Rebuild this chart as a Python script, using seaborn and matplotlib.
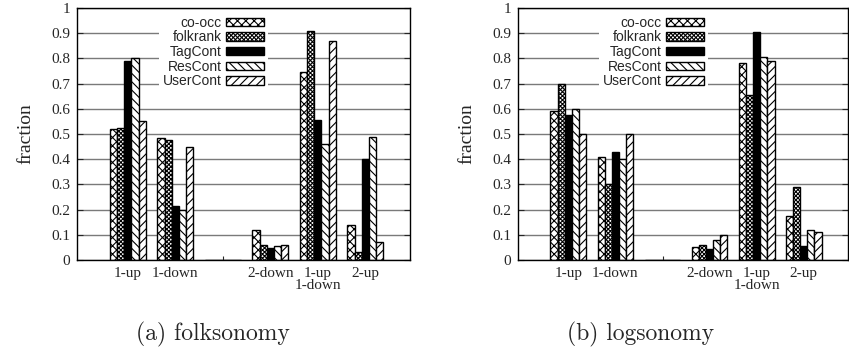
import matplotlib
matplotlib.use("Agg")
import matplotlib.pyplot as plt
from matplotlib.patches import Patch
import numpy as np
import pandas as pd
import seaborn as sns

# Move categories; the blank slot is an empty position on the axis
categories = ["1-up", "1-down", " ", "2-down", "1-up\n1-down", "2-up"]
methods = ["co-occ", "folkrank", "TagCont", "ResCont", "UserCont"]

# (a) folksonomy
folk_cooc = [0.52, 0.485, 0.0, 0.12, 0.745, 0.14]
folk_folkrank = [0.525, 0.475, 0.0, 0.06, 0.91, 0.03]
folk_tagcont = [0.79, 0.215, 0.0, 0.047, 0.555, 0.40]
folk_rescont = [0.80, 0.20, 0.0, 0.055, 0.46, 0.49]
folk_usercont = [0.55, 0.45, 0.0, 0.058, 0.87, 0.07]

# (b) logsonomy
log_cooc = [0.59, 0.41, 0.0, 0.05, 0.78, 0.175]
log_folkrank = [0.70, 0.30, 0.0, 0.058, 0.655, 0.29]
log_tagcont = [0.575, 0.43, 0.0, 0.045, 0.905, 0.055]
log_rescont = [0.60, 0.40, 0.0, 0.078, 0.805, 0.12]
log_usercont = [0.50, 0.50, 0.0, 0.10, 0.79, 0.11]

yticks = [0, 0.1, 0.2, 0.3, 0.4, 0.5, 0.6, 0.7, 0.8, 0.9, 1]
ytick_labels = ["0", "0.1", "0.2", "0.3", "0.4", "0.5", "0.6", "0.7", "0.8", "0.9", "1"]

styles = {
    "co-occ": dict(facecolor="white", hatch="xxxx"),
    "folkrank": dict(facecolor="white", hatch="xxxxxxxx"),
    "TagCont": dict(facecolor="black", hatch=None),
    "ResCont": dict(facecolor="white", hatch="\\\\\\\\"),
    "UserCont": dict(facecolor="white", hatch="////"),
}

sns.set_style("white")
plt.rcParams["font.family"] = ["serif"]
plt.rcParams["font.serif"] = ["Liberation Serif", "DejaVu Serif"]
plt.rcParams["font.sans-serif"] = ["Liberation Sans", "DejaVu Sans"]
plt.rcParams["hatch.linewidth"] = 0.8
plt.rcParams["hatch.color"] = "black"

TICK_SIZE = 11


def long_frame(series):
    rows = []
    for m, vals in zip(methods, series):
        for c, v in zip(categories, vals):
            rows.append({"move": c, "method": m, "fraction": v})
    return pd.DataFrame(rows)


def draw_panel(ax, series, caption_x, caption):
    df = long_frame(series)
    sns.barplot(data=df, x="move", y="fraction", hue="method",
                order=categories, hue_order=methods, width=0.76,
                dodge=True, legend=False, ax=ax, errorbar=None,
                edgecolor="black", linewidth=1.0)
    for m, cont in zip(methods, ax.containers):
        st = styles[m]
        for p in cont.patches:
            p.set_facecolor(st["facecolor"])
            p.set_edgecolor("black")
            if st["hatch"]:
                p.set_hatch(st["hatch"])

    ax.set_axisbelow(True)
    ax.set_xlim(-1.07, 5.94)
    ax.set_ylim(0, 1)
    ax.set_yticks(yticks)
    ax.set_yticklabels(ytick_labels, fontsize=TICK_SIZE)
    ax.set_xticks(range(len(categories)))
    ax.set_xticklabels(categories, fontsize=TICK_SIZE, linespacing=0.95)
    ax.tick_params(axis="y", direction="in", length=4, right=True, left=True,
                   pad=5)
    ax.tick_params(axis="x", direction="in", length=3, bottom=True, pad=5)
    ax.grid(axis="y", color="#7a7a7a", linewidth=1.0)
    ax.grid(axis="x", visible=False)
    for s in ax.spines.values():
        s.set_color("black")
        s.set_linewidth(1.0)
    ax.set_xlabel("")
    ax.set_ylabel("fraction", fontsize=14, labelpad=12)

    handles = [Patch(facecolor=styles[m]["facecolor"], edgecolor="black",
                     hatch=styles[m]["hatch"], linewidth=1.0) for m in methods]
    leg = ax.legend(handles, methods, loc="upper center",
                    bbox_to_anchor=(0.41, 1.0), markerfirst=False,
                    frameon=True, fancybox=False, framealpha=1.0,
                    facecolor="white", edgecolor="none",
                    prop={"family": ["Liberation Sans", "DejaVu Sans"], "size": 10},
                    handlelength=2.75, handleheight=0.55, labelspacing=0.05,
                    handletextpad=0.3, borderpad=0.3, borderaxespad=0.25)
    leg.set_zorder(5)
    fig.text(caption_x, 1 - 340 / 349, caption, ha="center", va="baseline",
             fontfamily=["cmr10", "DejaVu Serif"], fontsize=17)


fig = plt.figure(figsize=(8.49, 3.49), dpi=100)
ax1 = fig.add_axes([77 / 849, 1 - 260 / 349, 333 / 849, 252 / 349])
ax2 = fig.add_axes([518 / 849, 1 - 260 / 349, 330 / 849, 252 / 349])

draw_panel(ax1, [folk_cooc, folk_folkrank, folk_tagcont, folk_rescont, folk_usercont],
           213 / 849, "(a) folksonomy")
draw_panel(ax2, [log_cooc, log_folkrank, log_tagcont, log_rescont, log_usercont],
           641 / 849, "(b) logsonomy")

fig.savefig("out.png", dpi=100)
